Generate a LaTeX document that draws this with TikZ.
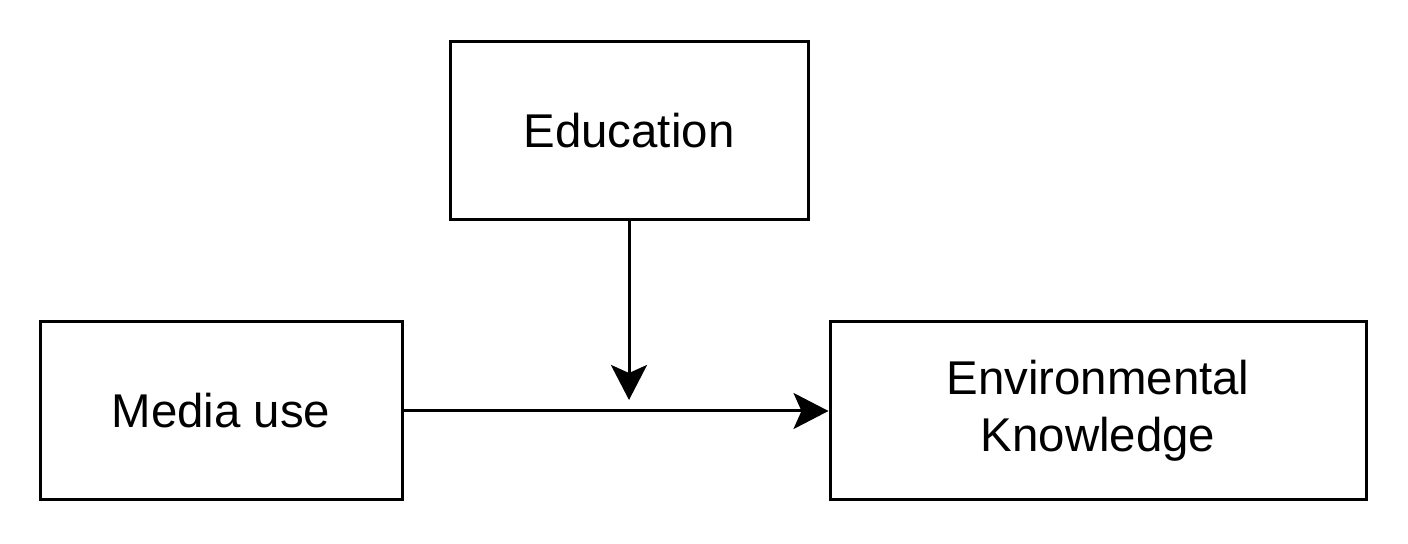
\documentclass[tikz,border=0pt]{standalone}
\usepackage{fontspec}
\setmainfont{Liberation Sans}
\usetikzlibrary{arrows.meta}
\begin{document}
\begin{tikzpicture}[x=0.5pt,y=-0.5pt,
  boxstyle/.style={draw, line width=1.5pt, inner sep=0pt, align=center,
    font=\fontsize{23.7}{28.5}\selectfont},
  arrowstyle/.style={line width=1.5pt, -{Stealth[length=17.5pt,width=18pt,inset=4pt]}}]
\useasboundingbox (0,0) rectangle (1408,544);
\node[boxstyle, minimum width=179pt, minimum height=89pt] (edu) at (629,131) {Education};
\node[boxstyle, minimum width=181pt, minimum height=89pt] (media) at (221,411) {Media use};
\node[boxstyle, minimum width=268pt, minimum height=89pt] (env) at (1098,411) {Environmental\\Knowledge};
\coordinate (tip) at (629,400);
\draw[arrowstyle] (media.east) -- (env.west);
\draw[arrowstyle] (edu.south) -- (tip);
\end{tikzpicture}
\end{document}
